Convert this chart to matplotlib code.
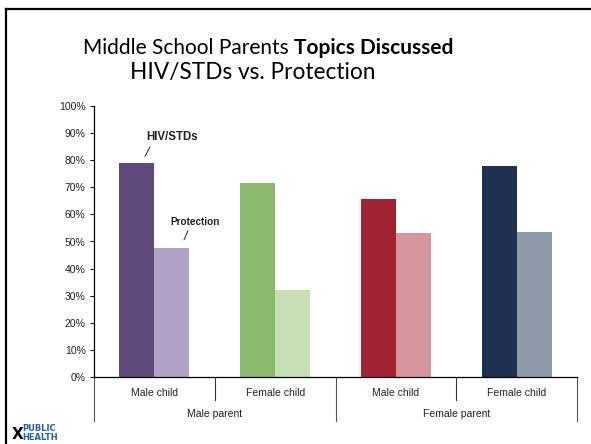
import matplotlib
matplotlib.use("Agg")
import matplotlib.pyplot as plt
from matplotlib.lines import Line2D
import matplotlib.transforms as mtransforms
import numpy as np

# Datos
children = ["Male child", "Female child", "Male child", "Female child"]
parents = ["Male parent", "Female parent"]
hiv_stds = [79, 71.5, 65.5, 78]
protection = [47.5, 32, 53, 53.5]
yticks = list(range(0, 101, 10))

# Colores: oscuro = HIV/STDs, claro = Protection
dark = ["#604A7B", "#89BA6E", "#A12232", "#1F3050"]
light = ["#B2A3C6", "#C8DFB6", "#D6959C", "#8F9AAB"]

W, H = 591, 444
fig = plt.figure(figsize=(W / 100, H / 100), dpi=100)
fig.patch.set_facecolor("white")

# Marco de la diapositiva
fig.add_artist(Line2D([6 / W, 6 / W], [0, 1 - 9 / H], color="black", lw=1.6))
fig.add_artist(Line2D([6 / W, 1], [1 - 9 / H, 1 - 9 / H], color="black", lw=1.6))

# Título
TS = 15
t1 = fig.text(83 / W, 1 - 48 / H, "Middle School Parents ", fontsize=TS, family="Lato",
              ha="left", va="center")
fig.canvas.draw()
bb = t1.get_window_extent()
fig.text(bb.x1 / W, 1 - 48 / H, "Topics Discussed", fontsize=TS, family="Lato",
         weight="bold", ha="left", va="center")
fig.text(253 / W, 1 - 72 / H, "HIV/STDs vs. Protection", fontsize=16.3, family="Lato",
         ha="center", va="center")

ax = fig.add_axes([94 / W, 1 - 377 / H, 483 / W, 271 / H])
x = np.arange(len(children))
bw = 0.29
ax.bar(x - bw / 2, hiv_stds, bw, color=dark, linewidth=0)
ax.bar(x + bw / 2, protection, bw, color=light, linewidth=0)

FS = 7.5
ax.set_xlim(-0.5, 3.5)
ax.set_ylim(0, 100)
ax.set_yticks(yticks)
ax.set_yticklabels([f"{v}%" for v in yticks], fontsize=FS, family="Liberation Sans",
                   color="#222222")
ax.tick_params(axis="y", length=3, width=0.7, pad=3)
ax.set_xticks([])
for s in ["top", "right"]:
    ax.spines[s].set_visible(False)
ax.spines["left"].set_linewidth(0.9)
ax.spines["bottom"].set_linewidth(0.9)

# Etiquetas de categorías en dos niveles
trans = mtransforms.blended_transform_factory(ax.transData, ax.transAxes)
px = 1 / 271
for i, lab in enumerate(children):
    ax.text(i, -16 * px, lab, transform=trans, ha="center", va="center",
            fontsize=FS, family="Liberation Sans", color="#222222")
for k in [0.5, 2.5]:
    ax.add_line(Line2D([k, k], [0, -23 * px], transform=trans, color="#333333",
                       lw=0.8, clip_on=False))
for k in [-0.5, 1.5, 3.5]:
    ax.add_line(Line2D([k, k], [0, -44 * px], transform=trans, color="#555555",
                       lw=0.8, clip_on=False))
for j, lab in enumerate(parents):
    ax.text(2 * j + 0.5, -37 * px, lab, transform=trans, ha="center", va="center",
            fontsize=FS, family="Liberation Sans", color="#222222")

# Anotaciones de series
ax.text(-0.069, 88.6, "HIV/STDs", fontsize=8.3, weight="bold", family="Liberation Sans",
        ha="left", va="center", color="#222222")
ax.add_line(Line2D([-0.036, -0.077], [84.9, 81.5], color="black", lw=0.6))
ax.text(0.129, 57.2, "Protection", fontsize=7.2, weight="bold", family="Liberation Sans",
        ha="left", va="center", color="#222222")
ax.add_line(Line2D([0.278, 0.245], [53.9, 50.6], color="black", lw=0.6))

# Logo
fig.text(12 / W, 1 - 434 / H, "X", fontsize=11, weight="bold", family="DejaVu Sans",
         ha="left", va="center", color="black")
fig.text(22 / W, 1 - 428 / H, "PUBLIC", fontsize=6, weight="bold", family="DejaVu Sans Condensed",
         ha="left", va="center", color="#2161B0")
fig.text(22 / W, 1 - 437 / H, "HEALTH", fontsize=6, weight="bold", family="DejaVu Sans Condensed",
         ha="left", va="center", color="#2161B0")

fig.savefig("out.png", dpi=100)
